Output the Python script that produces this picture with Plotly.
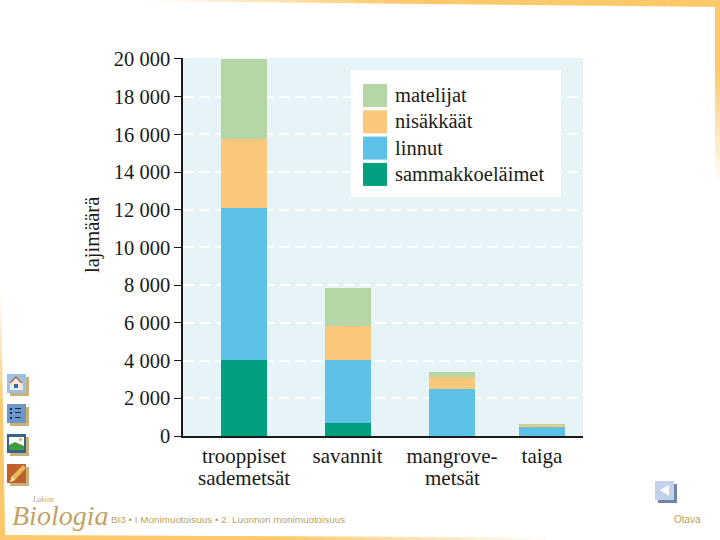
import plotly.graph_objects as go

# Species counts
category_first_lines = ["trooppiset", "savannit", "mangrove-", "taiga"]
category_second_lines = ["sademetsät", "", "metsät", ""]
sammakkoelaimet = [4030, 690, 0, 0]
linnut = [8080, 3340, 2500, 480]
nisakkaat = [3650, 1800, 630, 130]
matelijat = [4240, 2020, 270, 20]
y_ticks = list(range(0, 20001, 2000))
y_labels = [f"{v:,}".replace(",", " ") for v in y_ticks]
legend_names = ["matelijat", "nisäkkäät", "linnut", "sammakkoeläimet"]
footer_text = "BI3 • I Monimuotoisuus • 2. Luonnon monimuotoisuus"
publisher = "Otava"

# Layout (pixels of the 720x540 page)
bar_centres = [244, 347.5, 452, 542]
BAR_WIDTH = 46
GREEN, ORANGE, BLUE, TEAL = "#b6d7a5", "#fbc87b", "#5dc1e8", "#00a07f"
SERIF = "Liberation Serif"
INK = "#1a1a1a"
LOGO = "#c4a263"
W, H = 720, 540
LEFT, RIGHT, TOP, BOTTOM = 183, 583, 58, 436


def px(x):
    return (x - LEFT) / (RIGHT - LEFT)


def py(y):
    return (BOTTOM - y) / (BOTTOM - TOP)


fig = go.Figure()
for name, values, color in [
    ("sammakkoeläimet", sammakkoelaimet, TEAL),
    ("linnut", linnut, BLUE),
    ("nisäkkäät", nisakkaat, ORANGE),
    ("matelijat", matelijat, GREEN),
]:
    fig.add_trace(go.Bar(x=bar_centres, y=values, name=name, width=BAR_WIDTH, marker_color=color, marker_line_width=0))

shapes = []
annotations = []


def box(x0, y0, x1, y1, color, layer="above"):
    shapes.append(dict(type="rect", xref="paper", yref="paper", x0=px(x0), x1=px(x1), y0=py(y0), y1=py(y1),
                       fillcolor=color, line_width=0, layer=layer))


def poly(points, color, layer="above"):
    path = "M" + " L".join(f"{px(x):.5f},{py(y):.5f}" for x, y in points) + " Z"
    shapes.append(dict(type="path", xref="paper", yref="paper", path=path, fillcolor=color, line_width=0, layer=layer))


def text(x, y, s, size, color, anchor="left", font=SERIF, **kw):
    annotations.append(dict(xref="paper", yref="paper", x=px(x), y=py(y), text=s, showarrow=False, xanchor=anchor,
                            yanchor="middle", font=dict(family=font, size=size, color=color), **kw))


# Slide frame, fading bands
def fade(t):
    a, b = (255, 255, 255), (253, 200, 105)
    t = min(t, 1)
    return "rgb(%d,%d,%d)" % tuple(round(a[i] + (b[i] - a[i]) * t) for i in range(3))


for i in range(40):
    t = i / 39
    # top edge, thickening to the right
    x0 = 130 + i * 15
    box(x0, 0, x0 + 16, 1 + t * 6, fade(t * 2.2), "below")
    # left edge, growing downwards
    y0 = 285 + i * 6.3
    box(0, y0, 1 + t * 4, y0 + 7, fade(t * 2), "below")
    # bottom edge, thinning to the right
    x1 = i * 14
    box(x1, 535 + t * 2.5, x1 + 15, 540, fade((1 - t) * 2), "below")
    # right edge, fading downwards
    y1 = 6 + i * 4.5
    box(715, y1, 720, y1 + 5, fade((1 - t) * 1.5), "below")

# Legend
box(351, 70, 561, 197, "white")
for i, (name, color) in enumerate(zip(legend_names, [GREEN, ORANGE, BLUE, TEAL])):
    top = 84 + i * 26.3
    box(363, top, 387, top + 23, color)
    text(393, top + 11, name, 20.5, INK)

# Navigation icons
for top, bg in [(374, "#9cc1e6"), (404, "#6f96c4"), (434, "#35608f"), (464, "#c0602c")]:
    box(10, top + 3, 29, top + 22, "#c9b078")
    box(7, top, 26, top + 19, bg)
poly([(10, 383), (16, 377), (23, 383), (23, 390), (10, 390)], "#f5e9df")
poly([(9, 383), (16, 376), (23, 383), (21, 383), (16, 378), (11, 383)], "#b0634a")
box(14, 384, 18, 388, "#2f6f9f")
for y in (408, 412, 417):
    box(10, y, 12, y + 2, "#12305c")
    box(15, y, 21, y + 1, "#12305c")
box(9, 437, 24, 450, "#ffffff")
poly([(9, 450), (9, 445), (15, 442), (24, 446), (24, 450)], "#3f9d3a")
box(19, 438, 22, 441, "#e2c060")
poly([(10, 482), (12, 476), (23, 465), (26, 468), (15, 480)], "#e8b85a")
poly([(10, 482), (12, 476), (15, 480)], "#f5e3c0")

# Back button
box(658, 484, 677, 503, "#6f83ad")
box(655, 481, 674, 500, "#c3d2e8")
poly([(660, 490), (669, 485), (669, 496)], "#ffffff")

# Logo and footer
text(10, 515, "<i>Biologia</i>", 28, LOGO)
text(30, 499, "<i>Lukion</i>", 7.5, LOGO)
text(109, 519.5, footer_text, 9.9, "#b9a45c", font="Liberation Sans")
text(672, 519.5, publisher, 10, "#b9a45c", font="Liberation Sans")

# Y axis title
text(92, 235, "lajimäärä", 20.5, INK, anchor="center", textangle=-90)

# Second lines of the category labels sit closer than <br> would put them
for centre, line in zip(bar_centres, category_second_lines):
    if line:
        text(centre, 478, line, 21, INK, anchor="center")
        annotations[-1].update(xref="x", x=centre)

fig.update_layout(
    width=W,
    height=H,
    autosize=False,
    barmode="stack",
    showlegend=False,
    paper_bgcolor="white",
    plot_bgcolor="#e6f3f7",
    margin=dict(l=LEFT, r=W - RIGHT, t=TOP, b=H - BOTTOM, pad=0),
    shapes=shapes,
    annotations=annotations,
)
fig.update_xaxes(
    range=[LEFT, RIGHT],
    tickmode="array",
    tickvals=bar_centres,
    ticktext=category_first_lines,
    ticks="",
    showgrid=False,
    showline=True,
    linecolor=INK,
    linewidth=1.5,
    zeroline=False,
    tickfont=dict(family=SERIF, size=21, color=INK),
)
fig.update_yaxes(
    range=[0, 20050],
    tickmode="array",
    tickvals=y_ticks,
    ticktext=y_labels,
    ticks="outside",
    ticklen=7,
    tickcolor=INK,
    showgrid=True,
    gridcolor="white",
    griddash="11px,5px",
    gridwidth=1.5,
    showline=True,
    linecolor=INK,
    linewidth=1.5,
    zeroline=False,
    tickfont=dict(family=SERIF, size=20.5, color=INK),
)

fig.write_html("out.html", config=dict(displayModeBar=False), post_script="document.body.style.margin='0';")
